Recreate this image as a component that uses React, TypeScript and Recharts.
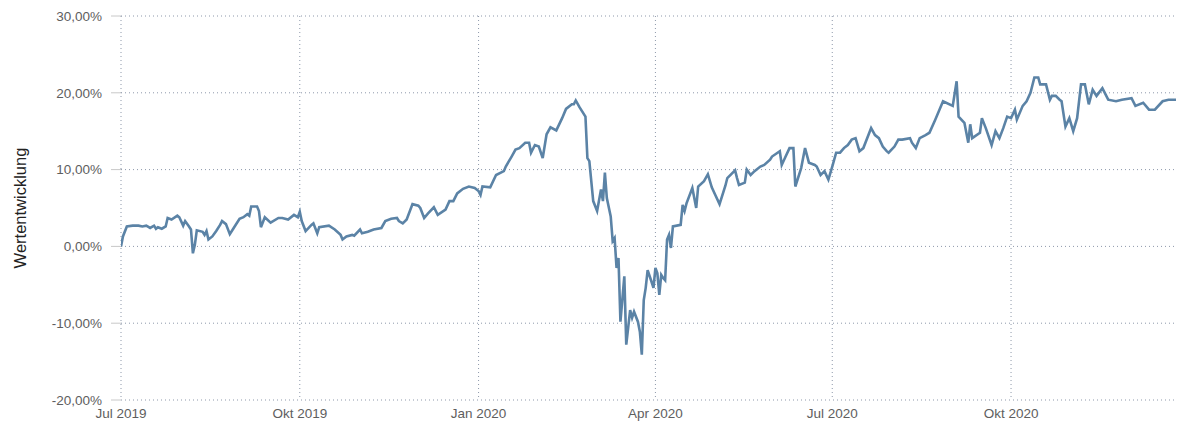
import React from 'react';
import { LineChart, Line, XAxis, YAxis, CartesianGrid } from 'recharts';

// days since 1 Jul 2019
const days = [0,1,3,6,9,11,13,15,17,18,19,21,23,24,26,29,30,32,33,35,36,37,38,39,42,43,44,45,47,49,51,52,54,56,58,61,63,65,66,67,70,71,72,74,77,81,83,86,89,91,92,93,95,98,99,101,102,107,110,113,114,116,119,120,123,124,127,130,134,136,139,142,143,145,147,150,153,154,156,158,161,163,167,169,171,173,176,179,182,184,185,186,190,193,197,198,201,203,205,208,210,211,213,215,217,219,221,224,227,229,232,233,234,236,239,240,241,243,245,247,248,249,250,252,253,254,255,256,257,259,260,262,263,264,266,267,268,269,270,271,273,274,275,276,277,278,279,280,281,282,283,284,288,289,290,291,294,296,297,300,302,304,306,308,311,312,316,317,318,321,322,324,326,329,331,334,335,339,340,342,344,346,347,350,352,354,357,358,360,362,364,366,368,370,372,374,376,378,380,382,386,388,390,392,394,395,398,400,402,406,407,409,411,414,416,419,423,428,430,431,434,436,437,438,442,443,445,448,450,452,454,456,458,460,461,464,466,468,470,472,473,476,478,479,481,483,484,486,488,490,492,494,496,498,500,502,505,508,512,515,520,522,526,529,532,536,539,543,547];

// Wertentwicklung in %
const values = [0.0,1.3,2.6,2.7,2.7,2.6,2.7,2.4,2.7,2.3,2.5,2.3,2.6,3.7,3.5,4.0,3.8,2.7,3.3,2.6,2.2,-0.9,0.2,2.1,1.9,1.5,2.0,0.9,1.3,2.0,2.8,3.3,2.9,1.6,2.4,3.6,3.8,4.2,4.0,5.2,5.2,4.6,2.5,3.8,3.1,3.7,3.7,3.5,4.1,3.8,4.5,3.3,2.0,2.8,3.0,1.7,2.5,2.7,2.2,1.5,0.9,1.3,1.5,1.4,2.2,1.7,1.9,2.2,2.4,3.3,3.6,3.7,3.3,3.0,3.5,5.5,5.3,5.0,3.7,4.3,5.1,4.1,4.8,5.9,5.9,6.9,7.5,7.8,7.6,7.2,6.7,7.8,7.7,9.3,9.8,10.4,11.7,12.6,12.8,13.5,13.5,12.2,13.2,13.0,11.5,14.6,15.5,15.1,16.7,17.9,18.5,18.5,19.0,18.1,16.9,11.5,11.1,5.9,4.6,7.4,5.9,9.6,6.3,3.9,0.7,1.1,-2.8,-1.5,-9.8,-3.9,-12.8,-8.3,-9.3,-8.5,-9.8,-11.1,-14.1,-7.0,-5.4,-3.1,-4.6,-5.4,-2.8,-3.5,-6.3,-3.7,-4.1,-4.4,0.9,1.5,-0.2,2.6,2.8,5.4,4.6,5.6,7.6,5.0,7.8,8.5,9.4,7.7,6.6,5.5,7.9,8.9,9.9,8.9,8.0,8.3,10.0,9.3,9.8,10.4,10.6,11.3,11.7,12.4,10.6,11.7,12.8,12.8,7.8,10.2,12.8,10.9,10.6,10.4,9.3,9.8,8.7,10.4,12.2,12.2,12.8,13.2,13.9,14.1,12.4,12.8,15.4,14.5,14.1,13.0,12.4,12.2,13.0,13.9,13.9,14.1,13.5,12.8,14.1,14.5,14.8,16.5,18.9,18.3,21.5,16.9,16.1,13.5,15.9,14.1,14.8,16.7,15.4,13.2,15.0,14.1,15.4,16.9,16.7,17.8,16.5,18.3,18.9,20.0,22.0,22.0,21.1,21.1,19.1,19.6,19.6,19.1,18.9,15.6,16.7,15.0,16.7,21.1,21.1,18.5,20.4,19.6,20.6,19.1,18.9,19.1,19.3,18.3,18.7,17.8,17.8,18.9,19.1,19.1,18.8];

const xTicks = [0, 92, 184, 275, 366, 458];
const xTickLabels = ['Jul 2019', 'Okt 2019', 'Jan 2020', 'Apr 2020', 'Jul 2020', 'Okt 2020'];
const yTicks = [-20, -10, 0, 10, 20, 30];

const data = days.map((d, i) => ({ day: d, value: values[i] }));

const fmtPct = (v: number) => v.toFixed(2).replace('.', ',') + '%';
const fmtX = (v: number) => {
  const i = xTicks.indexOf(v);
  return i >= 0 ? xTickLabels[i] : '';
};

const font = 'Arial, "Liberation Sans", Helvetica, sans-serif';

export default function App() {
  return (
    <div style={{ width: 1176, height: 417, fontFamily: font }}>
      <LineChart width={1176} height={417} data={data} margin={{ top: 8, right: 0, bottom: 0, left: 0 }}>
        <CartesianGrid stroke="#8d98aa" strokeDasharray="1 3" />
        <XAxis
          dataKey="day"
          type="number"
          domain={[0, 547]}
          ticks={xTicks}
          tickFormatter={fmtX}
          axisLine={false}
          tickLine={false}
          height={25}
          tick={{ fill: '#5e5e5e', fontSize: 13.5, fontFamily: font }}
          interval={0}
          allowDataOverflow
        />
        <YAxis
          type="number"
          domain={[-20, 30]}
          ticks={yTicks}
          tickFormatter={fmtPct}
          width={113}
          axisLine={false}
          tickLine={{ stroke: '#c8c8c8' }}
          tickSize={10}
          tickMargin={9}
          tick={{ fill: '#5e5e5e', fontSize: 13.5, fontFamily: font }}
          interval={0}
          label={{ value: 'Wertentwicklung', angle: -90, position: 'insideLeft', offset: 12, style: { textAnchor: 'middle', fill: '#222', fontSize: 16.5, fontFamily: font } }}
        />
        <Line type="linear" dataKey="value" stroke="#5b83a6" strokeWidth={2.6} dot={false} isAnimationActive={false} />
      </LineChart>
    </div>
  );
}
